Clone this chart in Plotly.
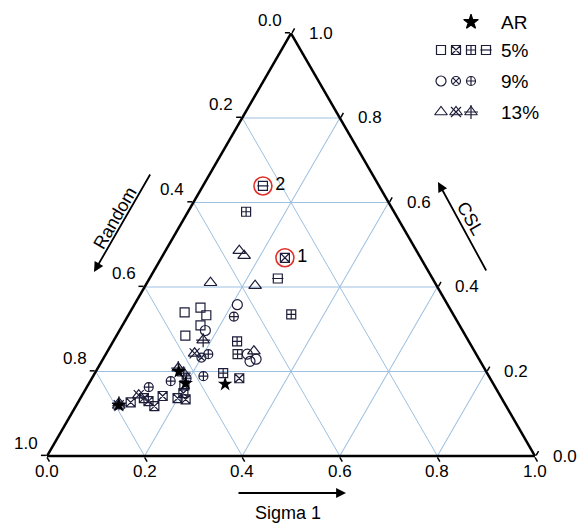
import math
import plotly.graph_objects as go

# ---------------- data (fractions: CSL, Sigma 1; Random = 1 - CSL - Sigma 1) -------------
ar_csl = [0.120, 0.170, 0.172, 0.200]
ar_sig = [0.087, 0.280, 0.198, 0.170]

sq_csl = [0.340, 0.351, 0.333, 0.309, 0.285]
sq_sig = [0.112, 0.139, 0.160, 0.160, 0.141]

sqx_csl = [0.469, 0.184, 0.167, 0.149, 0.137, 0.134, 0.142, 0.118, 0.130, 0.137, 0.127]
sqx_sig = [0.253, 0.302, 0.198, 0.205, 0.199, 0.217, 0.166, 0.161, 0.143, 0.130, 0.108]

sqc_csl = [0.578, 0.335, 0.271, 0.241, 0.196]
sqc_sig = [0.119, 0.333, 0.254, 0.270, 0.263]

sqm_csl = [0.639, 0.420]
sqm_sig = [0.123, 0.263]

ci_csl = [0.358, 0.297, 0.241, 0.224, 0.229]
ci_sig = [0.211, 0.176, 0.290, 0.304, 0.314]

cix_csl = [0.233]
cix_sig = [0.200]

cic_csl = [0.330, 0.241, 0.189, 0.184, 0.177, 0.163]
cic_sig = [0.218, 0.210, 0.226, 0.194, 0.165, 0.127]

tr_csl = [0.486, 0.474, 0.410, 0.403, 0.248]
tr_sig = [0.151, 0.167, 0.130, 0.225, 0.300]

trx_csl = [0.243, 0.144, 0.120]
trx_sig = [0.181, 0.116, 0.087]

trc_csl = [0.274, 0.208, 0.196, 0.125]
trc_sig = [0.183, 0.165, 0.182, 0.085]

# highlighted samples
hl_csl = [0.469, 0.639]
hl_sig = [0.253, 0.123]
hl_text = ["1", "2"]

tick_vals = [0.0, 0.2, 0.4, 0.6, 0.8, 1.0]
tick_labels = ["0.0", "0.2", "0.4", "0.6", "0.8", "1.0"]

legend_labels = ["AR", "5%", "9%", "13%"]

INK = "#1d1d3a"
FONT = "Liberation Sans, Arial, sans-serif"
W, H = 579, 532

# triangle placement (pixels)
TX0, TX1, TYB = 47.0, 535.0, 456.0
TW = TX1 - TX0
TH = TW * math.sqrt(3) / 2
TYT = TYB - TH


def to_px(csl, sig):
    """pixel position of a ternary point (used only for layout of labels)"""
    y = TYB - csl * TH
    x = TX0 + sig * TW + csl * TW / 2
    return x, y


fig = go.Figure()


def rnd(csl, sig):
    return [1 - a - c for a, c in zip(csl, sig)]


def add_series(csl, sig, symbols, size=9):
    for i, sym in enumerate(symbols):
        sz = size if i == 0 else size - 1
        fig.add_trace(go.Scatterternary(
            a=csl, b=rnd(csl, sig), c=sig, mode="markers",
            marker=dict(symbol=sym, size=sz, color=INK,
                        line=dict(color=INK, width=1.2)),
            showlegend=False, hoverinfo="skip"))


add_series(sq_csl, sq_sig, ["square-open"])
add_series(sqx_csl, sqx_sig, ["square-x-open"])
add_series(sqc_csl, sqc_sig, ["square-cross-open"])
add_series(sqm_csl, sqm_sig, ["square-open", "line-ew-open"])
add_series(ci_csl, ci_sig, ["circle-open"], size=10)
add_series(cix_csl, cix_sig, ["circle-x-open"])
add_series(cic_csl, cic_sig, ["circle-cross-open"])
add_series(tr_csl, tr_sig, ["triangle-up-open"], size=11)
add_series(trx_csl, trx_sig, ["triangle-up-open", "x-thin-open"], size=11)
add_series(trc_csl, trc_sig, ["triangle-up-open", "cross-thin-open"], size=11)
fig.add_trace(go.Scatterternary(
    a=ar_csl, b=rnd(ar_csl, ar_sig), c=ar_sig, mode="markers",
    marker=dict(symbol="star", size=11, color="black", line=dict(width=0)),
    showlegend=False, hoverinfo="skip"))

# red circles and labels 1, 2
fig.add_trace(go.Scatterternary(
    a=hl_csl, b=rnd(hl_csl, hl_sig), c=hl_sig, mode="markers+text",
    text=hl_text, textposition="middle right",
    textfont=dict(family=FONT, size=18, color="black"),
    marker=dict(symbol="circle-open", size=18, color="#e0302a",
                line=dict(color="#e0302a", width=1.6)),
    showlegend=False, hoverinfo="skip"))

axis_common = dict(
    tickmode="array", tickvals=tick_vals,
    showticklabels=False,
    linecolor="black", linewidth=2.5, showline=True,
    gridcolor="#9dc0e0", gridwidth=1, showgrid=True,
    ticks="outside", ticklen=5, tickcolor="black", tickwidth=1.5,
    title=dict(text=""), min=0,
)

fig.update_layout(
    ternary=dict(
        sum=1,
        bgcolor="white",
        domain=dict(x=[TX0 / W, TX1 / W], y=[(H - TYB) / H, (H - TYT) / H]),
        aaxis=axis_common,
        baxis=axis_common,
        caxis=axis_common,
    ),
    width=W, height=H,
    margin=dict(l=0, r=0, t=0, b=0, autoexpand=False),
    paper_bgcolor="white",
    plot_bgcolor="rgba(0,0,0,0)",
    font=dict(family=FONT, size=17, color="black"),
    showlegend=False,
    # hidden overlay axes in pixel units for legend and labels
    xaxis=dict(range=[0, W], domain=[0, 1], visible=False, fixedrange=True),
    yaxis=dict(range=[H, 0], domain=[0, 1], visible=False, fixedrange=True),
)

# ---------- tick labels ----------
lab_font = dict(family=FONT, size=17, color="black")
for v, t in zip(tick_vals, tick_labels):
    # bottom: Sigma 1
    x, y = to_px(0.0, v)
    fig.add_annotation(x=x, y=y + 15, xref="x", yref="y", text=t, showarrow=False,
                       font=lab_font, xanchor="center", yanchor="middle")
    # left: Random (Random = v on left edge, CSL = 1 - v)
    x, y = to_px(1 - v, 0.0)
    fig.add_annotation(x=x - 21, y=y - 13, xref="x", yref="y", text=t, showarrow=False,
                       font=lab_font, xanchor="center", yanchor="middle")
    # right: CSL (Sigma 1 = 1 - v on right edge)
    x, y = to_px(v, 1 - v)
    fig.add_annotation(x=x + 16, y=y, xref="x", yref="y", text=t, showarrow=False,
                       font=lab_font, xanchor="left", yanchor="middle")

# ---------- custom legend ----------
leg_rows_y = [22, 50, 81, 112]
leg_sym_x = [441, 456, 471, 486]


def leg_marker(x, y, syms, size=9, color=INK):
    for j, s in enumerate(syms):
        fig.add_trace(go.Scatter(
            x=[x], y=[y], mode="markers",
            marker=dict(symbol=s, size=size if j == 0 else size - 1, color=color,
                        line=dict(color=color, width=1.2)),
            showlegend=False, hoverinfo="skip"))


leg_marker(471, leg_rows_y[0], ["star"], size=11, color="black")
leg_marker(leg_sym_x[0], leg_rows_y[1], ["square-open"])
leg_marker(leg_sym_x[1], leg_rows_y[1], ["square-x-open"])
leg_marker(leg_sym_x[2], leg_rows_y[1], ["square-cross-open"])
leg_marker(leg_sym_x[3], leg_rows_y[1], ["square-open", "line-ew-open"])
leg_marker(leg_sym_x[0], leg_rows_y[2], ["circle-open"], size=10)
leg_marker(leg_sym_x[1], leg_rows_y[2], ["circle-x-open"])
leg_marker(leg_sym_x[2], leg_rows_y[2], ["circle-cross-open"])
leg_marker(leg_sym_x[0], leg_rows_y[3], ["triangle-up-open"], size=11)
leg_marker(leg_sym_x[1], leg_rows_y[3], ["triangle-up-open", "x-thin-open"], size=11)
leg_marker(leg_sym_x[2], leg_rows_y[3], ["triangle-up-open", "cross-thin-open"], size=11)

for lab, yy in zip(legend_labels, leg_rows_y):
    fig.add_annotation(x=499, y=yy, xref="x", yref="y", text=lab, showarrow=False,
                       xanchor="left", yanchor="middle",
                       font=dict(family=FONT, size=19, color="black"))

# ---------- axis titles with arrows ----------
title_font = dict(family=FONT, size=18, color="black")
fig.add_annotation(x=115, y=218, xref="x", yref="y", text="Random",
                   textangle=-60, showarrow=False, font=title_font)
fig.add_annotation(x=94, y=272, ax=151, ay=173, xref="x", yref="y", axref="x", ayref="y",
                   text="", showarrow=True, arrowhead=2, arrowsize=1.1,
                   arrowwidth=1.8, arrowcolor="black")
fig.add_annotation(x=470, y=218, xref="x", yref="y", text="CSL",
                   textangle=60, showarrow=False, font=title_font)
fig.add_annotation(x=438, y=182, ax=487, ay=272, xref="x", yref="y", axref="x", ayref="y",
                   text="", showarrow=True, arrowhead=2, arrowsize=1.1,
                   arrowwidth=1.8, arrowcolor="black")
fig.add_annotation(x=288, y=513, xref="x", yref="y", text="Sigma 1",
                   showarrow=False, font=title_font)
fig.add_annotation(x=346, y=493, ax=237, ay=493, xref="x", yref="y", axref="x", ayref="y",
                   text="", showarrow=True, arrowhead=2, arrowsize=1.1,
                   arrowwidth=1.8, arrowcolor="black")

fig.write_html("out.html",
               config={"displayModeBar": False, "staticPlot": True},
               post_script="document.body.style.margin='0';document.body.style.padding='0';")
